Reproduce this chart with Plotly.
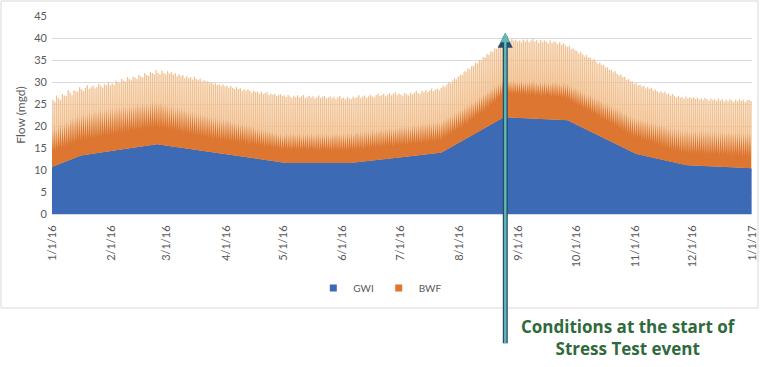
import pandas as pd
import plotly.graph_objects as go

# GWI (groundwater infiltration) node values, mgd
gwi_dates = ["2016-01-01", "2016-01-15", "2016-02-24", "2016-04-30", "2016-06-03",
             "2016-07-22", "2016-08-24", "2016-09-26", "2016-10-31", "2016-11-26", "2016-12-31"]
gwi_values = [10.7, 13.2, 15.9, 11.6, 11.5, 13.8, 22.0, 21.4, 13.8, 11.1, 10.4]

# BWF daily minimum above GWI, mgd (Jan..Dec 2016)
bwf_low = [
    3.3, 3.5, 3.2, 3.4, 3.6, 3.3, 3.5, 3.4, 3.2, 3.6, 3.4, 3.5, 3.3, 3.6, 3.5, 3.4, 3.7, 3.5, 3.3, 3.6, 3.4, 3.7, 3.5, 3.6, 3.4, 3.7, 3.5, 3.6, 3.8, 3.5, 3.7,
    3.7, 3.5, 3.8, 3.6, 3.9, 3.7, 3.6, 3.9, 3.8, 3.6, 4.0, 3.8, 3.7, 3.9, 4.0, 3.8, 3.7, 4.0, 3.9, 3.8, 4.1, 3.9, 3.8, 4.0, 3.9, 3.7, 4.0, 3.8, 3.9,
    3.8, 3.6, 3.9, 3.7, 3.5, 3.8, 3.6, 3.7, 3.4, 3.6, 3.7, 3.5, 3.3, 3.6, 3.4, 3.5, 3.2, 3.5, 3.3, 3.4, 3.1, 3.4, 3.2, 3.3, 3.0, 3.3, 3.1, 3.2, 3.0, 3.3, 3.1,
    3.2, 3.4, 3.1, 3.3, 3.5, 3.2, 3.4, 3.1, 3.3, 3.5, 3.2, 3.4, 3.0, 3.3, 3.5, 3.2, 3.1, 3.4, 3.2, 3.3, 3.0, 3.3, 3.1, 3.4, 3.2, 3.0, 3.3, 3.1, 3.2, 3.0,
    3.1, 3.3, 3.0, 3.2, 2.9, 3.1, 3.3, 3.0, 3.2, 2.9, 3.1, 3.2, 3.0, 2.8, 3.1, 3.2, 2.9, 3.1, 3.0, 2.8, 3.1, 3.2, 2.9, 3.0, 3.1, 2.8, 3.0, 3.2, 2.9, 3.1, 3.0,
    2.9, 3.1, 2.8, 3.0, 3.2, 2.9, 3.0, 2.8, 3.1, 2.9, 3.0, 2.7, 3.0, 3.1, 2.8, 2.9, 3.1, 2.8, 3.0, 2.9, 2.7, 3.0, 2.9, 3.1, 2.8, 3.0, 2.7, 2.9, 3.0, 2.8,
    2.9, 2.7, 3.0, 2.8, 2.6, 2.9, 2.8, 3.0, 2.7, 2.9, 2.8, 2.6, 2.9, 3.0, 2.7, 2.8, 3.0, 2.9, 2.7, 2.9, 3.0, 2.8, 2.9, 3.1, 2.8, 3.0, 3.1, 2.9, 3.2, 3.0, 3.1,
    3.2, 3.0, 3.3, 3.4, 3.1, 3.5, 3.4, 3.6, 3.5, 3.8, 3.7, 3.9, 4.0, 3.8, 4.2, 4.1, 4.4, 4.3, 4.6, 4.5, 4.8, 4.9, 5.1, 5.3, 5.2, 5.5, 5.4, 5.6, 5.3, 5.5, 5.4,
    5.5, 5.3, 5.6, 5.4, 5.2, 5.5, 5.3, 5.6, 5.4, 5.2, 5.5, 5.3, 5.1, 5.4, 5.2, 5.5, 5.3, 5.0, 5.3, 5.1, 5.2, 4.9, 5.1, 4.8, 5.0, 4.7, 4.9, 4.6, 4.8, 4.6,
    4.7, 4.5, 4.8, 4.6, 4.4, 4.7, 4.5, 4.6, 4.3, 4.5, 4.6, 4.3, 4.5, 4.2, 4.4, 4.3, 4.1, 4.4, 4.2, 4.3, 4.0, 4.2, 4.1, 3.9, 4.2, 4.0, 4.1, 3.8, 4.0, 3.9, 3.7,
    3.8, 3.6, 3.9, 3.7, 3.5, 3.7, 3.4, 3.6, 3.3, 3.5, 3.2, 3.4, 3.1, 3.3, 3.0, 3.2, 2.9, 3.1, 2.8, 3.0, 2.9, 2.7, 3.0, 2.8, 2.6, 2.9, 2.7, 2.8, 2.6, 2.8,
    2.7, 2.9, 2.6, 2.8, 2.7, 2.9, 2.6, 2.8, 2.5, 2.7, 2.9, 2.6, 2.8, 2.7, 2.5, 2.8, 2.6, 2.9, 2.7, 2.5, 2.8, 2.6, 2.7, 2.9, 2.6, 2.8, 2.5, 2.7, 2.9, 2.6, 2.8,
]

# BWF typical daytime level above GWI (top of the dense dark band), mgd
bwf_mid = [
    8.4, 8.9, 8.2, 8.7, 9.1, 8.5, 8.9, 9.2, 8.6, 9.0, 9.4, 8.8, 9.2, 9.5, 8.9, 9.3, 9.6, 9.0, 9.4, 9.7, 9.1, 9.5, 9.8, 9.2, 9.6, 9.9, 9.3, 9.7, 9.9, 9.4, 9.8,
    9.6, 9.2, 9.8, 9.4, 9.9, 9.3, 9.7, 9.5, 9.1, 9.8, 9.4, 9.6, 9.2, 9.9, 9.5, 9.3, 9.8, 9.4, 9.7, 9.2, 9.6, 9.9, 9.4, 9.7, 9.3, 9.8, 9.5, 9.2, 9.4,
    9.3, 9.0, 9.5, 9.1, 8.8, 9.3, 8.9, 9.2, 8.7, 9.0, 8.6, 8.9, 8.5, 8.8, 8.4, 8.7, 8.3, 8.6, 8.2, 8.5, 8.1, 8.4, 8.0, 8.3, 7.9, 8.2, 7.8, 8.1, 7.7, 8.0, 7.6,
    8.2, 7.8, 8.0, 7.6, 7.9, 7.5, 7.8, 7.4, 7.7, 7.3, 7.6, 7.2, 7.5, 7.1, 7.4, 7.0, 7.3, 6.9, 7.2, 6.8, 7.1, 6.7, 7.0, 6.6, 6.9, 6.5, 6.8, 6.4, 6.7, 6.3,
    6.5, 6.9, 6.3, 6.7, 6.4, 6.8, 6.2, 6.6, 6.9, 6.3, 6.7, 6.5, 6.9, 6.4, 6.8, 6.6, 6.3, 6.7, 6.9, 6.4, 6.8, 6.5, 6.9, 6.6, 6.3, 6.8, 6.5, 6.9, 6.6, 6.8, 6.5,
    6.8, 6.5, 7.0, 6.6, 6.9, 6.4, 6.8, 7.1, 6.6, 6.9, 6.5, 7.0, 6.7, 6.9, 6.5, 7.1, 6.7, 6.9, 6.6, 7.0, 6.8, 6.5, 7.0, 6.7, 7.1, 6.8, 6.6, 7.0, 6.7, 6.9,
    7.0, 6.7, 7.2, 6.8, 7.1, 6.6, 7.0, 7.3, 6.8, 7.1, 6.9, 7.3, 6.8, 7.2, 7.0, 7.4, 6.9, 7.2, 7.0, 7.4, 7.1, 6.9, 7.3, 7.0, 7.4, 7.1, 7.3, 7.0, 7.4, 7.2, 7.3,
    7.2, 7.0, 7.4, 7.1, 7.5, 7.2, 7.6, 7.3, 7.7, 7.4, 7.8, 7.5, 7.9, 7.6, 8.0, 7.7, 8.1, 7.8, 8.2, 7.9, 8.3, 8.0, 8.4, 8.1, 8.5, 8.2, 8.4, 8.1, 8.5, 8.2, 8.3,
    8.2, 8.6, 8.0, 8.4, 8.1, 8.5, 8.2, 8.7, 8.1, 8.4, 8.0, 8.5, 8.2, 8.6, 8.1, 8.4, 8.0, 8.5, 8.3, 8.6, 8.1, 8.4, 8.0, 8.5, 8.2, 8.4, 8.1, 8.3, 8.0, 8.4,
    8.3, 8.0, 8.5, 8.1, 8.4, 7.9, 8.3, 8.6, 8.1, 8.4, 8.0, 8.5, 8.2, 8.4, 8.0, 8.3, 8.6, 8.1, 8.4, 8.0, 8.3, 8.5, 8.1, 8.4, 7.9, 8.2, 8.5, 8.0, 8.3, 8.1, 8.2,
    8.0, 8.3, 7.9, 8.2, 7.8, 8.1, 8.4, 7.9, 8.2, 7.8, 8.1, 7.7, 8.0, 8.3, 7.8, 8.1, 7.7, 8.0, 7.9, 7.6, 8.0, 7.8, 8.1, 7.7, 7.9, 7.6, 8.0, 7.8, 7.7, 7.9,
    7.8, 8.1, 7.6, 7.9, 8.2, 7.7, 8.0, 7.8, 8.1, 7.6, 7.9, 8.2, 7.7, 8.0, 7.8, 8.1, 7.6, 7.9, 8.2, 7.8, 8.0, 7.7, 8.1, 7.9, 8.2, 7.8, 8.0, 7.7, 8.1, 7.9, 8.0,
]

# BWF daily peak above GWI, mgd (Jan..Dec 2016)
bwf_peak = [
    15.2, 14.6, 15.8, 15.0, 14.4, 15.6, 15.1, 14.8, 15.9, 15.2, 14.5, 15.4, 15.0, 14.7, 15.6, 15.1, 14.6, 15.3, 15.8, 14.9, 15.2, 15.5, 14.8, 15.0, 15.7, 15.2, 14.7, 15.4, 15.1, 15.6, 15.0,
    15.3, 14.9, 15.8, 15.4, 15.1, 16.0, 15.5, 15.2, 16.2, 15.7, 15.3, 16.1, 15.8, 15.4, 16.3, 15.9, 15.6, 16.5, 16.0, 15.7, 16.6, 16.2, 15.9, 16.8, 16.3, 16.0, 16.9, 16.4, 16.2,
    17.0, 16.5, 16.9, 16.4, 16.8, 16.2, 16.7, 16.3, 16.6, 16.0, 16.5, 16.1, 16.4, 15.9, 16.6, 16.2, 16.0, 16.4, 15.8, 16.2, 15.9, 16.1, 15.7, 16.0, 15.6, 15.9, 15.5, 15.8, 15.4, 15.9, 15.5,
    15.7, 15.3, 15.8, 15.4, 15.2, 15.7, 15.3, 15.6, 15.1, 15.5, 15.2, 15.6, 15.3, 15.0, 15.5, 15.2, 15.4, 15.0, 15.5, 15.1, 15.3, 15.6, 15.0, 15.4, 15.2, 15.5, 15.1, 15.3, 15.6, 15.2,
    15.4, 15.0, 15.5, 15.1, 14.8, 15.3, 15.0, 15.4, 14.9, 15.2, 15.5, 14.8, 15.1, 15.3, 14.9, 15.2, 14.7, 15.0, 15.4, 14.8, 15.1, 15.3, 14.7, 15.0, 15.2, 14.8, 15.1, 14.6, 15.0, 15.3, 14.8,
    14.9, 14.6, 15.1, 14.7, 14.5, 15.0, 14.6, 14.8, 15.2, 14.5, 14.8, 15.0, 14.4, 14.7, 15.0, 14.6, 14.3, 14.8, 15.1, 14.5, 14.7, 14.9, 14.3, 14.6, 14.9, 14.4, 14.7, 15.0, 14.3, 14.6,
    14.3, 14.0, 14.6, 14.2, 13.9, 14.5, 14.1, 14.4, 14.8, 14.2, 14.0, 14.6, 14.3, 14.7, 14.2, 14.5, 14.9, 14.3, 14.6, 14.8, 14.4, 14.7, 15.0, 14.5, 14.8, 15.1, 14.6, 14.9, 15.2, 14.7, 15.0,
    15.3, 14.9, 15.5, 15.2, 15.7, 15.3, 15.8, 15.5, 16.0, 15.6, 16.1, 15.8, 16.3, 15.9, 16.5, 16.1, 16.6, 16.3, 16.8, 16.4, 17.0, 16.7, 17.3, 17.6, 17.2, 17.8, 17.4, 17.9, 17.5, 17.7, 17.3,
    17.6, 17.2, 17.8, 17.4, 17.9, 17.3, 17.7, 18.1, 17.5, 17.8, 17.2, 17.9, 17.4, 17.8, 17.6, 17.2, 17.9, 17.3, 17.7, 17.5, 17.1, 17.6, 17.0, 17.4, 16.9, 16.7, 17.1, 16.6, 17.0, 16.8,
    16.9, 16.5, 17.1, 16.7, 16.4, 17.0, 16.6, 16.9, 16.5, 17.0, 16.6, 16.3, 16.8, 16.4, 16.7, 16.3, 16.6, 16.2, 16.5, 16.1, 16.6, 16.2, 16.0, 16.5, 16.1, 16.4, 15.9, 16.3, 16.0, 16.2, 15.8,
    16.1, 15.7, 16.0, 15.6, 15.9, 15.4, 15.8, 15.5, 15.9, 15.3, 15.7, 15.4, 15.2, 15.6, 15.3, 15.7, 15.2, 15.5, 15.1, 15.6, 15.3, 15.0, 15.5, 15.2, 15.4, 15.1, 15.6, 15.2, 15.5, 15.3,
    15.6, 15.2, 15.5, 15.1, 15.4, 15.0, 15.5, 15.2, 14.9, 15.4, 15.1, 15.3, 15.0, 15.5, 15.1, 15.4, 14.9, 15.3, 15.0, 15.5, 15.2, 14.9, 15.4, 15.1, 15.6, 15.2, 15.5, 15.0, 15.4, 15.6, 15.3,
]

tick_dates = ["2016-01-01", "2016-02-01", "2016-03-01", "2016-04-01", "2016-05-01", "2016-06-01", "2016-07-01",
              "2016-08-01", "2016-09-01", "2016-10-01", "2016-11-01", "2016-12-01", "2017-01-01"]
tick_labels = ["1/1/16", "2/1/16", "3/1/16", "4/1/16", "5/1/16", "6/1/16", "7/1/16",
               "8/1/16", "9/1/16", "10/1/16", "11/1/16", "12/1/16", "1/1/17"]

event_date = "2016-08-25"
event_level = 41.2
event_text = "Conditions at the start of<br>Stress Test event"

BLUE = "#3C6AB4"
ORANGE = "#DC7630"
LIGHT_ORANGE = "#F1C191"
GRAY_TXT = "#595959"
GRID = "#D9D9D9"

days = pd.date_range("2016-01-01", periods=len(bwf_low), freq="D")
H = pd.Timedelta(hours=1)

# dense daily cycle: night minimum -> daytime level
bwf_x, bwf_y = [], []
for d, lo, md in zip(days, bwf_low, bwf_mid):
    bwf_x += [d, d + 12 * H]
    bwf_y += [lo, md]

# daily peak envelope (lighter tone)
env_x, env_y = [], []
for d, lo, pk in zip(days, bwf_low, bwf_peak):
    env_x += [d, d + 3 * H, d + 19 * H]
    env_y += [lo, pk, pk]

fig = go.Figure()
# peak envelope layer
fig.add_trace(go.Scatter(x=gwi_dates, y=gwi_values, mode="lines", stackgroup="env",
                         stackgaps="interpolate", showlegend=False, hoverinfo="skip",
                         line=dict(width=0, color=BLUE), fillcolor=BLUE))
fig.add_trace(go.Scatter(x=env_x, y=env_y, mode="lines", stackgroup="env",
                         showlegend=False, hoverinfo="skip",
                         line=dict(width=0, color=LIGHT_ORANGE), fillcolor=LIGHT_ORANGE))
# main stacked series
fig.add_trace(go.Scatter(x=gwi_dates, y=gwi_values, name="GWI", mode="lines",
                         stackgroup="flow", stackgaps="interpolate", showlegend=False,
                         line=dict(width=0, color=BLUE), fillcolor=BLUE))
fig.add_trace(go.Scatter(x=bwf_x, y=bwf_y, name="BWF", mode="lines",
                         stackgroup="flow", showlegend=False,
                         line=dict(width=0, color=ORANGE), fillcolor=ORANGE))
# legend entries (square swatches)
for nm, col in [("GWI", BLUE), ("BWF", ORANGE)]:
    fig.add_trace(go.Scatter(x=[None], y=[None], name=nm, mode="markers",
                             marker=dict(symbol="square", size=7, color=col)))

# arrow: dark outline then teal core
for col, w, hs in [("#24506E", 5, 0.6), ("#62B9B4", 2.4, 0.8)]:
    fig.add_annotation(x=event_date, y=event_level, xref="x", yref="y",
                       ax=0, ay=312, axref="pixel", ayref="pixel",
                       showarrow=True, arrowhead=2, arrowwidth=w, arrowsize=hs,
                       arrowcolor=col, text="")

fig.add_annotation(x=0.823, y=-0.624, xref="paper", yref="paper",
                   text=event_text, showarrow=False, align="center",
                   xanchor="center", yanchor="middle",
                   font=dict(family="Open Sans", size=17, color="#2F6A3C", weight="bold"))

# outer chart border
fig.add_shape(type="rect", xref="paper", yref="paper",
              x0=-0.0729, x1=1.0086, y0=-0.4747, y1=1.0758,
              line=dict(color=GRID, width=1), fillcolor="rgba(0,0,0,0)", layer="below")

fig.update_layout(
    width=765, height=367,
    margin=dict(l=52, r=13, t=16, b=153, autoexpand=False),
    paper_bgcolor="white", plot_bgcolor="white",
    font=dict(family="Lato", color=GRAY_TXT, size=11),
    showlegend=True,
    legend=dict(orientation="h", x=0.469, xanchor="center", y=-0.374, yanchor="middle",
                font=dict(size=10, color=GRAY_TXT), itemwidth=30, traceorder="normal",
                bgcolor="rgba(0,0,0,0)"),
    xaxis=dict(type="date", range=["2016-01-01", "2017-01-01"], automargin=False,
               tickmode="array", tickvals=tick_dates, ticktext=tick_labels,
               tickangle=-90, showgrid=False, zeroline=False,
               showline=True, linecolor=GRID, ticks="", ticklabelstandoff=6,
               tickfont=dict(size=11, color=GRAY_TXT)),
    yaxis=dict(range=[0, 45], dtick=5, tick0=0, showgrid=True, gridcolor=GRID,
               zeroline=False, ticks="", ticklabelstandoff=4, automargin=False,
               tickfont=dict(size=11, color=GRAY_TXT),
               title=dict(text="Flow (mgd)", font=dict(size=12, color=GRAY_TXT), standoff=6)),
)

fig.write_html("out.html", config={"displayModeBar": False},
               post_script="document.body.style.margin='0px';")
